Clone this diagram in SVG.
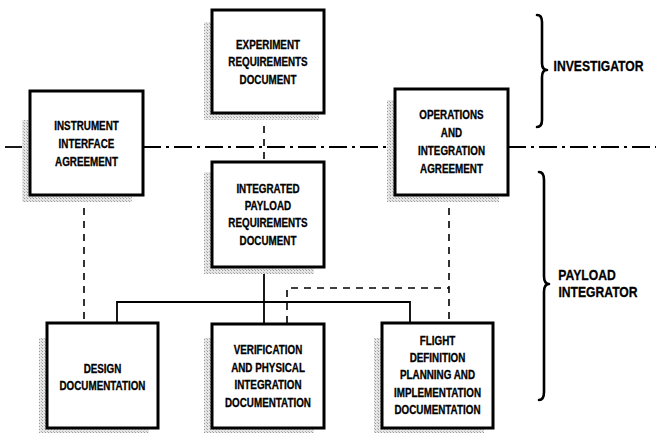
<svg xmlns="http://www.w3.org/2000/svg" width="656" height="433" viewBox="0 0 656 433">
<defs>
<pattern id="stip" width="3" height="3" patternUnits="userSpaceOnUse">
<rect width="3" height="3" fill="#e6e6e6"/>
<rect width="1" height="1" fill="#9a9a9a"/>
<rect x="2" y="2" width="1" height="1" fill="#b5b5b5"/>
</pattern>
</defs>
<style>
.box{fill:#fff;stroke:#000;stroke-width:3}
.sh{fill:url(#stip)}
.t{font-family:"Liberation Sans",Arial,sans-serif;font-weight:bold;font-size:12px;text-anchor:middle;fill:#000;stroke:#000;stroke-width:0.3;transform-box:fill-box;transform-origin:center;transform:scaleX(0.82)}
.lab{font-family:"Liberation Sans",Arial,sans-serif;font-weight:bold;font-size:15px;text-anchor:middle;fill:#000;stroke:#000;stroke-width:0.3;transform-box:fill-box;transform-origin:center;transform:scaleX(0.81)}
.solid{fill:none;stroke:#000;stroke-width:1.8}
.dash{fill:none;stroke:#000;stroke-width:1.6;stroke-dasharray:7 6}
.dd{fill:none;stroke:#000;stroke-width:2;stroke-dasharray:18 5 3 5}
.brace{fill:none;stroke:#000;stroke-width:2.6;stroke-linecap:round;stroke-linejoin:round}
</style>
<g id="connectors">
<line class="solid" x1="5" y1="147" x2="30" y2="147"/>
<line class="dd" x1="143" y1="147" x2="395" y2="147"/>
<line class="dd" x1="508" y1="147" x2="656" y2="147"/>
<line class="dash" x1="264" y1="113" x2="264" y2="162"/>
<line class="dash" x1="84" y1="195" x2="84" y2="323"/>
<polyline class="dash" points="449,195 449,323"/>
<polyline class="dash" points="287,323 287,288 449,288"/>
<line class="solid" x1="264" y1="267" x2="264" y2="324"/>
<polyline class="solid" points="117,323 117,302 410,302 410,323"/>
</g>
<g id="instrument">
<rect class="sh" x="22" y="120" width="110" height="82"/>
<rect class="box" x="30" y="91" width="113" height="104"/>
<text class="t" x="86.5" y="130">INSTRUMENT</text>
<text class="t" x="86.5" y="148">INTERFACE</text>
<text class="t" x="86.5" y="166">AGREEMENT</text>
</g>
<g id="experiment">
<rect class="sh" x="204" y="22" width="115" height="98"/>
<rect class="box" x="212" y="10" width="112" height="103"/>
<text class="t" x="268" y="49">EXPERIMENT</text>
<text class="t" x="268" y="66">REQUIREMENTS</text>
<text class="t" x="268" y="84">DOCUMENT</text>
</g>
<g id="operations">
<rect class="sh" x="387" y="100" width="112" height="102"/>
<rect class="box" x="395" y="89" width="113" height="106"/>
<text class="t" x="451.5" y="119">OPERATIONS</text>
<text class="t" x="451.5" y="137">AND</text>
<text class="t" x="451.5" y="155">INTEGRATION</text>
<text class="t" x="451.5" y="173">AGREEMENT</text>
</g>
<g id="integrated">
<rect class="sh" x="204" y="172" width="110" height="102"/>
<rect class="box" x="212" y="162" width="112" height="105"/>
<text class="t" x="268" y="193">INTEGRATED</text>
<text class="t" x="268" y="210">PAYLOAD</text>
<text class="t" x="268" y="227">REQUIREMENTS</text>
<text class="t" x="268" y="245">DOCUMENT</text>
</g>
<g id="design">
<rect class="sh" x="39" y="338" width="110" height="95"/>
<rect class="box" x="47" y="323" width="111" height="105"/>
<text class="t" x="102.5" y="373">DESIGN</text>
<text class="t" x="102.5" y="390">DOCUMENTATION</text>
</g>
<g id="verification">
<rect class="sh" x="204" y="338" width="110" height="95"/>
<rect class="box" x="212" y="324" width="112" height="104"/>
<text class="t" x="268" y="354">VERIFICATION</text>
<text class="t" x="268" y="372">AND PHYSICAL</text>
<text class="t" x="268" y="389">INTEGRATION</text>
<text class="t" x="268" y="407">DOCUMENTATION</text>
</g>
<g id="flight">
<rect class="sh" x="374" y="338" width="110" height="95"/>
<rect class="box" x="382" y="323" width="111" height="105"/>
<text class="t" x="437.5" y="345">FLIGHT</text>
<text class="t" x="437.5" y="362">DEFINITION</text>
<text class="t" x="437.5" y="379">PLANNING AND</text>
<text class="t" x="437.5" y="397">IMPLEMENTATION</text>
<text class="t" x="437.5" y="414">DOCUMENTATION</text>
</g>
<g id="investigator">
<path class="brace" d="M537,15 Q542,15 542,22 L542,63 Q542,70 547,70 Q542,70 542,77 L542,120 Q542,127 537,127"/>
<text class="lab" x="598.5" y="71">INVESTIGATOR</text>
</g>
<g id="payload-integrator">
<path class="brace" d="M539,172 Q544,172 544,180 L544,276 Q544,284 549,284 Q544,284 544,292 L544,392 Q544,400 539,400"/>
<text class="lab" x="587" y="280">PAYLOAD</text>
<text class="lab" x="598" y="297">INTEGRATOR</text>
</g>
</svg>
